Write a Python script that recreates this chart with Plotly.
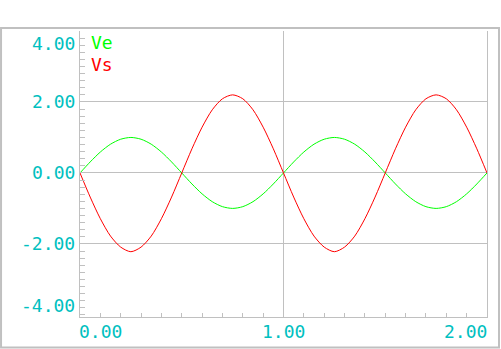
import plotly.graph_objects as go

t = [round(i * 0.05, 2) for i in range(41)]
ve = [0.00, 0.31, 0.59, 0.81, 0.95, 1.00, 0.95, 0.81, 0.59, 0.31,
      0.00, -0.31, -0.59, -0.81, -0.95, -1.00, -0.95, -0.81, -0.59, -0.31,
      0.00, 0.31, 0.59, 0.81, 0.95, 1.00, 0.95, 0.81, 0.59, 0.31,
      0.00, -0.31, -0.59, -0.81, -0.95, -1.00, -0.95, -0.81, -0.59, -0.31, 0.00]
vs = [0.00, -0.68, -1.29, -1.78, -2.09, -2.22, -2.09, -1.78, -1.29, -0.68,
      0.00, 0.68, 1.29, 1.78, 2.09, 2.20, 2.09, 1.78, 1.29, 0.68,
      0.00, -0.68, -1.29, -1.78, -2.09, -2.22, -2.09, -1.78, -1.29, -0.68,
      0.00, 0.68, 1.29, 1.78, 2.09, 2.20, 2.09, 1.78, 1.29, 0.68, 0.00]
series_names = ["Ve", "Vs"]
series_colors = ["#00ff00", "#ff0000"]
x_ticks = [0.0, 1.0, 2.0]
x_tick_labels = ["0.00", "1.00", "2.00"]
y_ticks = [4.0, 2.0, 0.0, -2.0, -4.0]
y_tick_labels = ["4.00", "2.00", "0.00", "-2.00", "-4.00"]

GRAY = "#c0c0c0"
CYAN = "#00c0c0"
FONT = "DejaVu Sans Mono"

fig = go.Figure()
for name, ys, col in zip(series_names, [ve, vs], series_colors):
    fig.add_trace(go.Scatter(x=t, y=ys, mode="lines", name=name,
                             line=dict(color=col, width=1, shape="spline", smoothing=0.8)))

fig.update_layout(
    width=501, height=349,
    margin=dict(l=80, r=14, t=31, b=32),
    paper_bgcolor="white", plot_bgcolor="white",
    showlegend=False,
)
fig.update_xaxes(
    range=[0, 2.0], tickmode="array", tickvals=x_ticks, showticklabels=False,
    showgrid=True, gridcolor=GRAY, gridwidth=1, zeroline=False,
    showline=True, linecolor=GRAY, linewidth=1, mirror=False,
    ticks="inside", ticklen=4, tickcolor=GRAY,
    minor=dict(tickmode="linear", tick0=0, dtick=0.1, ticks="inside",
               ticklen=4, tickcolor=GRAY, showgrid=False),
)
fig.update_yaxes(
    range=[-4.06, 4.0], tickmode="array", tickvals=[-2, 0, 2], showticklabels=False,
    showgrid=True, gridcolor=GRAY, gridwidth=1, zeroline=False,
    showline=True, linecolor=GRAY, linewidth=1, mirror=True,
    ticks="inside", ticklen=5, tickcolor=GRAY,
    minor=dict(tickmode="linear", tick0=0, dtick=0.2, ticks="inside",
               ticklen=5, tickcolor=GRAY, showgrid=False),
)

# outer frame
fig.add_shape(type="rect", xref="paper", yref="paper",
              x0=-0.194, x1=1.0295, y0=-0.107, y1=1.0105,
              line=dict(color=GRAY, width=2), layer="below")

# y tick labels
y_label_offsets = {4.0: -12, -4.0: 9}
for v, lab in zip(y_ticks, y_tick_labels):
    fig.add_annotation(x=0, y=v, xref="paper", yref="y", text=lab,
                       showarrow=False, xanchor="right", yanchor="middle",
                       xshift=-3, yshift=y_label_offsets.get(v, 0),
                       font=dict(family=FONT, size=18, color=CYAN))
# x tick labels
x_anchors = {0.0: "left", 1.0: "center", 2.0: "right"}
x_shifts = {0.0: -3, 1.0: 0, 2.0: 2}
for v, lab in zip(x_ticks, x_tick_labels):
    fig.add_annotation(x=v, y=0, xref="x", yref="paper", text=lab,
                       showarrow=False, xanchor=x_anchors[v], yanchor="top",
                       xshift=x_shifts[v], yshift=-2,
                       font=dict(family=FONT, size=18, color=CYAN))
# legend labels
for i, (name, col) in enumerate(zip(series_names, series_colors)):
    fig.add_annotation(x=0, y=1, xref="paper", yref="paper", text=name,
                       showarrow=False, xanchor="left", yanchor="top",
                       xshift=9, yshift=1 - 22 * i,
                       font=dict(family=FONT, size=18, color=col))

fig.write_html("out.html")
